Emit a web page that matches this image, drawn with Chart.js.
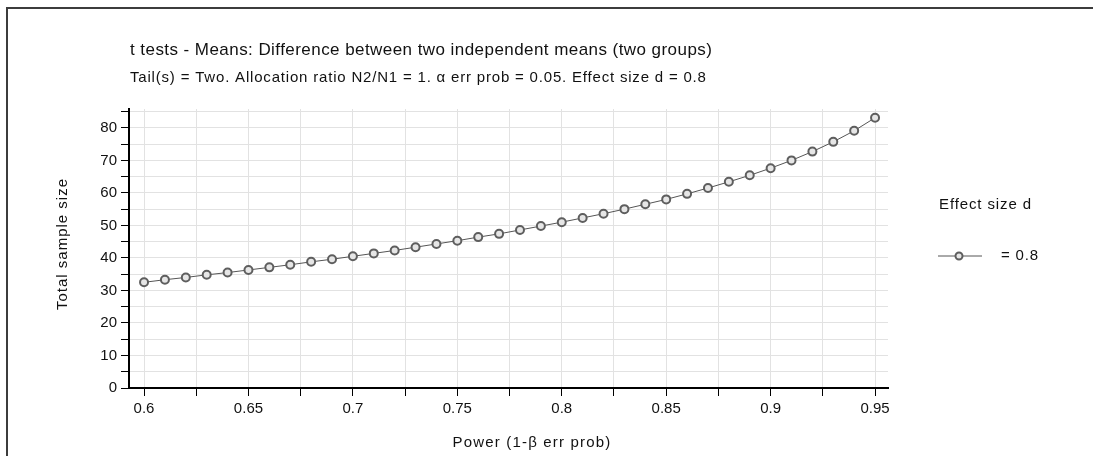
<!DOCTYPE html>
<html>
<head>
<meta charset="utf-8">
<script src="https://cdn.jsdelivr.net/npm/chart.js@4"></script>
<style>
  html, body { margin: 0; padding: 0; background: #fff; }
  #box { position: relative; width: 1093px; height: 456px; }
</style>
</head>
<body>
<div id="box"><canvas id="grafico"></canvas></div>
<script>
// dados
const POWER = [0.60, 0.61, 0.62, 0.63, 0.64, 0.65, 0.66, 0.67, 0.68, 0.69,
               0.70, 0.71, 0.72, 0.73, 0.74, 0.75, 0.76, 0.77, 0.78, 0.79,
               0.80, 0.81, 0.82, 0.83, 0.84, 0.85, 0.86, 0.87, 0.88, 0.89,
               0.90, 0.91, 0.92, 0.93, 0.94, 0.95];
const TOTAL = [32.5, 33.3, 34.0, 34.8, 35.5, 36.3, 37.1, 37.9, 38.8, 39.6,
               40.5, 41.4, 42.3, 43.3, 44.3, 45.3, 46.4, 47.4, 48.6, 49.8,
               51.0, 52.3, 53.6, 55.0, 56.5, 58.0, 59.7, 61.5, 63.4, 65.4,
               67.6, 70.0, 72.7, 75.7, 79.1, 83.1];
const SERIE = '= 0.8';

const TITULO = 't tests - Means: Difference between two independent means (two groups)';
const SUBTITULO = 'Tail(s) = Two. Allocation ratio N2/N1 = 1. α err prob = 0.05. Effect size d = 0.8';
const TITULO_X = 'Power (1-β err prob)';
const TITULO_Y = 'Total sample size';
const TITULO_LEGENDA = 'Effect size d';

const FONTE = '"Liberation Sans", Arial, Helvetica, sans-serif';
const COR_PONTO = '#5e5e5e';

const pontos = POWER.map((p, i) => ({ x: p, y: TOTAL[i] }));

// escreve texto com espaçamento ajustado pra largura desejada
function texto(ctx, str, x, y, tam, largura, align) {
    ctx.letterSpacing = '0px';
    ctx.font = tam + 'px ' + FONTE;
    const w = ctx.measureText(str).width;
    const esp = Math.max(0, (largura - w) / str.length);
    ctx.letterSpacing = esp.toFixed(2) + 'px';
    let x0 = x;
    if (align === 'center') x0 = x - largura / 2;
    ctx.textAlign = 'left';
    ctx.fillText(str, x0, y);
    ctx.letterSpacing = '0px';
}

// textos, legenda e moldura desenhados a mão
const extras = {
    id: 'extras',
    afterDraw(chart) {
        const ctx = chart.ctx;
        const a = chart.chartArea;
        ctx.save();

        // moldura (só em cima e à esquerda)
        ctx.strokeStyle = '#3c3c3c';
        ctx.lineWidth = 2;
        ctx.beginPath();
        ctx.moveTo(7, 460);
        ctx.lineTo(7, 8);
        ctx.lineTo(1100, 8);
        ctx.stroke();

        ctx.fillStyle = '#111';
        ctx.textBaseline = 'middle';
        texto(ctx, TITULO, a.left + 1, 50, 17, 582);
        texto(ctx, SUBTITULO, a.left + 1, 78, 15, 577);

        // titulo eixo x
        texto(ctx, TITULO_X, 532, 443, 15, 159, 'center');

        // titulo eixo y
        ctx.save();
        ctx.translate(63, 244);
        ctx.rotate(-Math.PI / 2);
        texto(ctx, TITULO_Y, 0, 0, 15, 132, 'center');
        ctx.restore();

        // legenda
        texto(ctx, TITULO_LEGENDA, 939, 205, 15, 93);
        ctx.strokeStyle = '#555';
        ctx.lineWidth = 1;
        ctx.beginPath();
        ctx.moveTo(938, 256);
        ctx.lineTo(982, 256);
        ctx.stroke();
        ctx.beginPath();
        ctx.arc(959, 256, 3.5, 0, Math.PI * 2);
        ctx.fillStyle = '#e6e6e6';
        ctx.fill();
        ctx.strokeStyle = COR_PONTO;
        ctx.lineWidth = 2;
        ctx.stroke();
        ctx.fillStyle = '#111';
        texto(ctx, SERIE, 1001, 256, 15, 38);

        ctx.restore();
    }
};

new Chart(document.getElementById('grafico'), {
    type: 'scatter',
    data: {
        datasets: [{
            label: SERIE,
            data: pontos,
            showLine: true,
            borderColor: '#555',
            borderWidth: 1,
            pointRadius: 4,
            pointBorderWidth: 2,
            pointBorderColor: COR_PONTO,
            pointBackgroundColor: '#e6e6e6',
            tension: 0
        }]
    },
    options: {
        responsive: true,
        maintainAspectRatio: false,
        animation: false,
        layout: { padding: { left: 0, top: 109, right: 205, bottom: 0 } },
        plugins: {
            legend: { display: false },
            tooltip: { enabled: false }
        },
        scales: {
            x: {
                type: 'linear',
                min: 0.5928,
                max: 0.9562,
                afterFit: s => { s.height = 68; },
                grid: { color: '#e2e2e2', tickColor: '#000', tickLength: 8, lineWidth: 1 },
                border: { color: '#000', width: 2 },
                ticks: {
                    stepSize: 0.025,
                    includeBounds: false,
                    autoSkip: false,
                    maxRotation: 0,
                    padding: 4,
                    color: '#111',
                    font: { family: FONTE, size: 15 },
                    callback: v => {
                        const k = v * 20;
                        if (Math.abs(k - Math.round(k)) > 1e-6) return '';
                        return String(Math.round(v * 100) / 100);
                    }
                }
            },
            y: {
                type: 'linear',
                min: 0,
                max: 85.8,
                afterFit: s => { s.width = 129; },
                grid: { color: '#e2e2e2', tickColor: '#000', tickLength: 8, lineWidth: 1 },
                border: { color: '#000', width: 2 },
                ticks: {
                    stepSize: 5,
                    includeBounds: false,
                    autoSkip: false,
                    padding: 4,
                    color: '#111',
                    font: { family: FONTE, size: 15 },
                    callback: v => (Math.round(v) % 10 === 0 ? String(Math.round(v)) : '')
                }
            }
        }
    },
    plugins: [extras]
});
</script>
</body>
</html>
